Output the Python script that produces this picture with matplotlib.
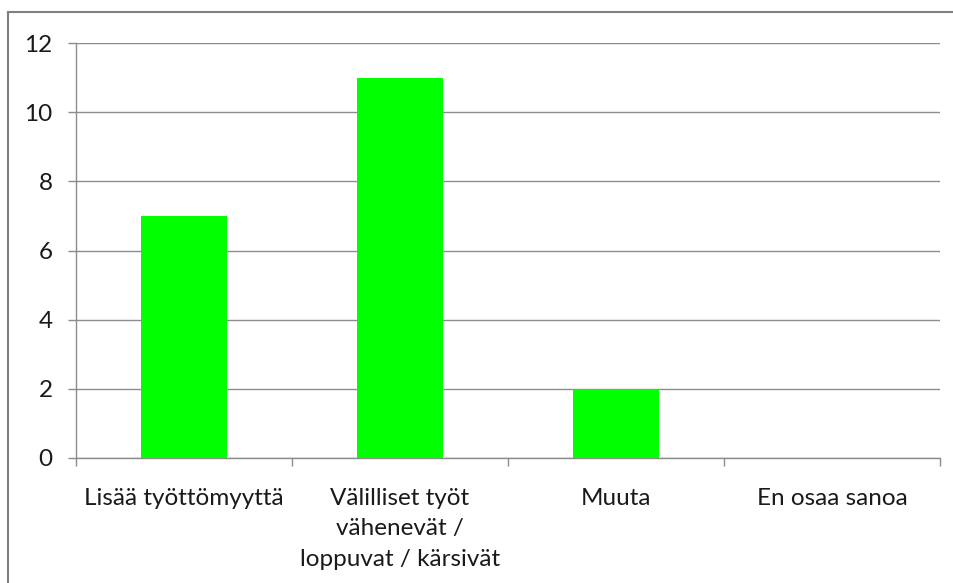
import matplotlib
matplotlib.use("Agg")
import matplotlib.pyplot as plt
from matplotlib.lines import Line2D
import numpy as np

categories = ["Lisää työttömyyttä", "Välilliset työt\nvähenevät /\nloppuvat / kärsivät", "Muuta", "En osaa sanoa"]
values = [7, 11, 2, 0]
yticks = [0, 2, 4, 6, 8, 10, 12]

plt.rcParams['font.family'] = ['Lato', 'DejaVu Sans']

W, H = 954, 583
fig = plt.figure(figsize=(W/100, H/100), dpi=100)
ax = fig.add_axes([76/W, 1-458/H, (940-76)/W, (458-43)/H])

x = np.arange(len(categories))
ax.bar(x, values, width=0.4, color="#00ff00", zorder=3)
ax.set_xlim(-0.5, len(categories)-0.5)
ax.set_ylim(0, 12)
ax.set_yticks(yticks)
ax.set_yticklabels([str(v) for v in yticks])
ax.yaxis.grid(True, color="#8c8c8c", linewidth=1, zorder=0)
ax.set_axisbelow(True)

ax.set_xticks(x)
ax.set_xticklabels(categories, linespacing=1.55)
ax.set_xticks(np.arange(len(categories)+1) - 0.5, minor=True)
ax.tick_params(axis='x', which='major', length=0, pad=21.5, labelsize=17.5, labelcolor="#1a1a1a")
ax.tick_params(axis='x', which='minor', length=5.8, color="#8c8c8c", width=1)
ax.tick_params(axis='y', length=5.8, color="#8c8c8c", width=1, labelsize=17.5, labelcolor="#1a1a1a", pad=11)
for s in ['top', 'right']:
    ax.spines[s].set_visible(False)
for s in ['left', 'bottom']:
    ax.spines[s].set_color("#8c8c8c")
    ax.spines[s].set_linewidth(1)

# outer chart border (left and top visible)
fig.add_artist(Line2D([8/W, 8/W], [0, 1-12/H], transform=fig.transFigure, color="#808080", linewidth=1.5))
fig.add_artist(Line2D([8/W, 1], [1-12/H, 1-12/H], transform=fig.transFigure, color="#808080", linewidth=1.5))

fig.savefig("out.png", dpi=100)
